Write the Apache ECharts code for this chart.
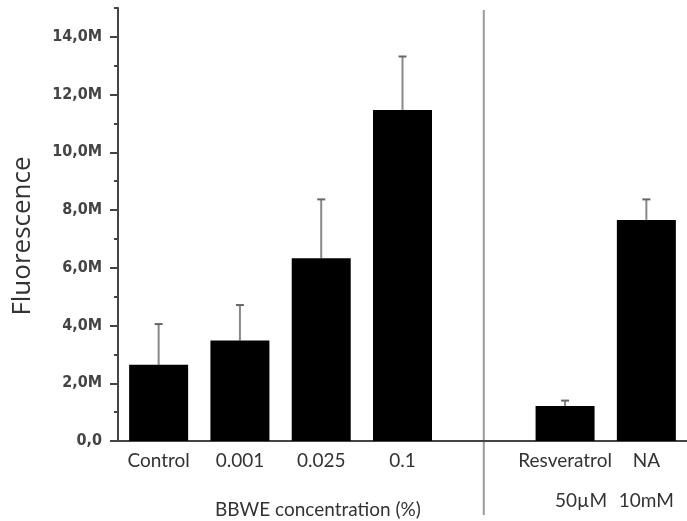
<!DOCTYPE html>
<html>
<head>
<meta charset="utf-8">
<script src="https://cdn.jsdelivr.net/npm/echarts@6/dist/echarts.min.js"></script>
<style>
  html, body { margin: 0; padding: 0; background: #fff; }
  #main { width: 687px; height: 521px; }
</style>
</head>
<body>
<div id="main"></div>
<script>
// values in millions
const categories = ['Control', '0.001', '0.025', '0.1', '', 'Resveratrol', 'NA']
const subLabels = ['', '', '', '', '', '50µM', '10mM']
const means = [2.64, 3.48, 6.33, 11.47, null, 1.21, 7.66]
const errUp = [1.41, 1.23, 2.04, 1.85, null, 0.19, 0.71]
const yTicks = [0, 2, 4, 6, 8, 10, 12, 14]

const labelFont = "Lato, sans-serif"

var myChart = echarts.init(document.getElementById('main'))

// second line under Resveratrol sits a bit to the right
const catLabels = categories.map((c, i) => {
  if (!subLabels[i]) return c
  return c + '\n{' + (i === 5 ? 's' : 't') + '|' + subLabels[i] + '}'
})

const axisColor = '#444'

var option = {
  animation: false,
  grid: { left: 118, top: 8, width: 570, height: 433 },
  xAxis: [
    {
      type: 'category',
      data: catLabels,
      axisLine: { lineStyle: { color: axisColor, width: 2 } },
      axisTick: { alignWithLabel: true, length: 8, lineStyle: { color: axisColor, width: 2 } },
      axisLabel: {
        interval: 0,
        margin: 0,
        fontFamily: labelFont,
        fontSize: 19,
        color: '#333',
        lineHeight: 40,
        rich: {
          s: { fontFamily: labelFont, fontSize: 19, color: '#333', lineHeight: 40, padding: [0, 0, 0, 32] },
          t: { fontFamily: labelFont, fontSize: 19, color: '#333', lineHeight: 40 }
        }
      }
    },
    {
      type: 'category',
      data: categories,
      position: 'bottom',
      axisLine: { show: false },
      axisTick: { length: 4, lineStyle: { color: axisColor, width: 2 } },
      axisLabel: { show: false }
    }
  ],
  yAxis: [
    {
      type: 'value',
      min: 0,
      max: 15,
      interval: 2,
      splitLine: { show: false },
      axisLine: { show: true, lineStyle: { color: axisColor, width: 2 } },
      axisTick: { show: true, length: 8, lineStyle: { color: axisColor, width: 2 } },
      axisLabel: {
        margin: 16,
        fontFamily: "'DejaVu Sans Condensed', sans-serif",
        fontWeight: 'bold',
        fontSize: 16,
        color: '#444',
        showMaxLabel: false,
        formatter: v => yTicks.indexOf(v) < 0 ? '' : (v === 0 ? '0,0' : v.toFixed(1).replace('.', ',') + 'M')
      }
    },
    {
      // odd-million minor ticks
      type: 'value',
      min: 0,
      max: 15,
      interval: 1,
      position: 'left',
      splitLine: { show: false },
      axisLine: { show: false },
      axisTick: { show: true, length: 4, lineStyle: { color: axisColor, width: 2 } },
      axisLabel: { show: false }
    }
  ],
  series: [
    {
      type: 'bar',
      xAxisIndex: 0,
      yAxisIndex: 0,
      data: means.map(v => v === null ? '-' : v),
      barWidth: 59,
      itemStyle: { color: '#000' }
    },
    {
      type: 'custom',
      xAxisIndex: 0,
      yAxisIndex: 0,
      z: 1,
      data: means.map((m, i) => m === null ? [i, '-', '-'] : [i, m, m + errUp[i]]),
      renderItem: function (params, api) {
        if (isNaN(api.value(1))) return
        var bottom = api.coord([api.value(0), api.value(1)])
        var top = api.coord([api.value(0), api.value(2)])
        return {
          type: 'group',
          children: [
            { type: 'line', shape: { x1: top[0], y1: top[1], x2: bottom[0], y2: bottom[1] }, style: { stroke: '#888', lineWidth: 2 } },
            { type: 'line', shape: { x1: top[0] - 4, y1: top[1], x2: top[0] + 4, y2: top[1] }, style: { stroke: '#666', lineWidth: 2 } }
          ]
        }
      }
    }
  ]
}

myChart.setOption(option)

// separator line at the empty category, plus rotated y title and group title
var sepX = myChart.convertToPixel({ xAxisIndex: 0 }, 4)
myChart.setOption({
  graphic: [
    { type: 'line', shape: { x1: sepX, y1: 10, x2: sepX, y2: 515 }, style: { stroke: '#999', lineWidth: 2 } },
    {
      type: 'text', x: 23, y: 236, rotation: Math.PI / 2,
      style: { text: 'Fluorescence', font: "26px 'Open Sans', sans-serif", fill: '#333', align: 'center', verticalAlign: 'middle' }
    },
    {
      type: 'text', x: 318, y: 510,
      style: { text: 'BBWE concentration (%)', font: "19px Lato, sans-serif", fill: '#333', align: 'center', verticalAlign: 'middle' }
    }
  ]
})
</script>
</body>
</html>
